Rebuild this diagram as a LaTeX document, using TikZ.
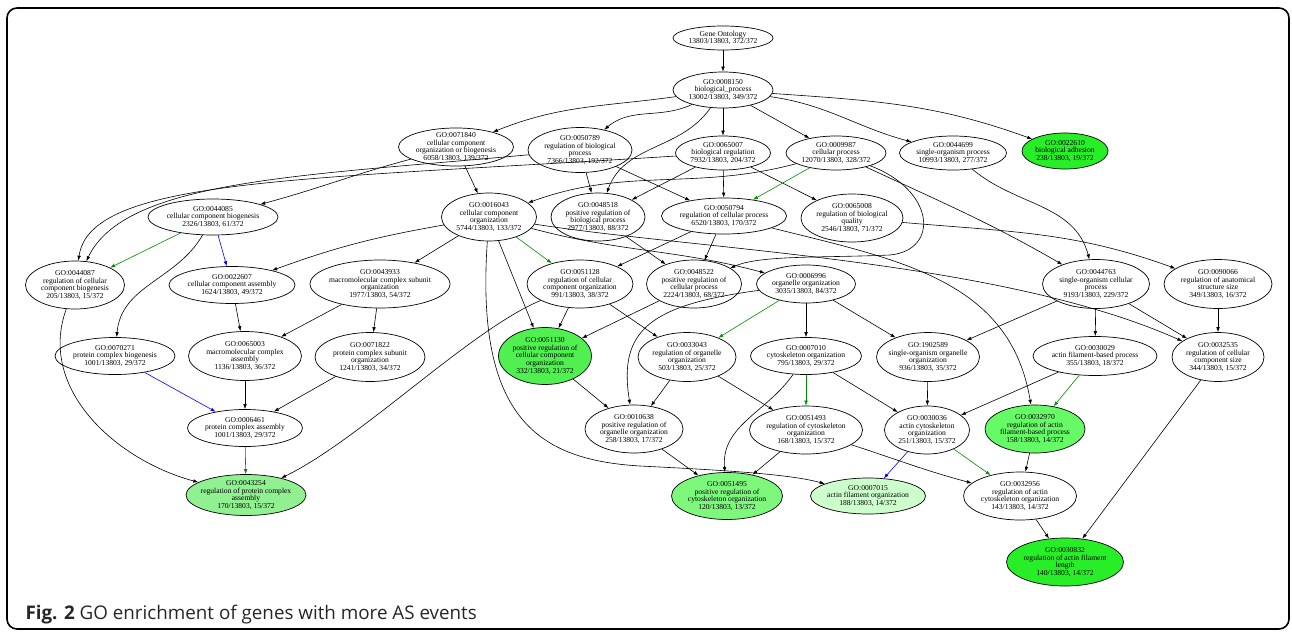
\documentclass[tikz,border=0pt]{standalone}
\usepackage{fontspec}
\usetikzlibrary{arrows.meta,shapes.geometric}
\newfontfamily\gofont{Liberation Serif}
\newfontfamily\capfont{Open Sans}
\definecolor{regcol}{RGB}{0,140,0}
\definecolor{partcol}{RGB}{0,0,255}
\definecolor{sigA}{RGB}{40,238,40}
\definecolor{sigB}{RGB}{80,240,80}
\definecolor{sigC}{RGB}{102,250,102}
\definecolor{sigD}{RGB}{125,248,125}
\definecolor{sigE}{RGB}{145,240,145}
\definecolor{sigF}{RGB}{204,255,204}

\begin{document}
\begin{tikzpicture}[x=1pt,y=-1pt,>={Latex[length=5pt,width=3.6pt]},
    go/.style 2 args={ellipse,draw,line width=0.7pt,minimum width=#1pt,minimum height=#2pt,
        inner xsep=-20pt,inner ysep=-14pt,align=center,font=\gofont\fontsize{7.6}{7.7}\selectfont},
    isa/.style={->,line width=0.6pt},
    reg/.style={isa,draw=regcol},
    partof/.style={isa,draw=partcol}]

        \useasboundingbox (0,0) rectangle (1292,632);
        \draw[line width=1.6pt,rounded corners=10pt] (7,8) rectangle (1289,629);

        \node[go={100}{24}] (gene) at (723,38) {Gene Ontology\\13803/13803, 372/372};
        \node[go={100}{36}] (n8150) at (723,90) {GO:0008150\\biological\_process\\13002/13803, 349/372};

        \node[go={115}{38}] (n71840) at (456,147) {GO:0071840\\cellular component\\organization or biogenesis\\6058/13803, 139/372};
        \node[go={104}{45}] (n50789) at (580,150) {GO:0050789\\regulation of biological\\process\\7366/13803, 192/372};
        \node[go={95}{34}] (n65007) at (723,153) {GO:0065007\\biological regulation\\7932/13803, 204/372};
        \node[go={100}{34}] (n9987) at (836,153) {GO:0009987\\cellular process\\12070/13803, 328/372};
        \node[go={107}{34}] (n44699) at (953,153) {GO:0044699\\single-organism process\\10993/13803, 277/372};
        \node[go={86}{36},fill=sigA] (n22610) at (1065,151) {GO:0022610\\biological adhesion\\238/13803, 19/372};

        \node[go={130}{36}] (n44085) at (213,217) {GO:0044085\\cellular component biogenesis\\2326/13803, 61/372};
        \node[go={95}{48}] (n16043) at (489,217) {GO:0016043\\cellular component\\organization\\5744/13803, 133/372};
        \node[go={94}{48}] (n48518) at (598,217) {GO:0048518\\positive regulation of\\biological process\\2977/13803, 88/372};
        \node[go={125}{36}] (n50794) at (724,216) {GO:0050794\\regulation of cellular process\\6520/13803, 170/372};
        \node[go={102}{48}] (n65008) at (852,218) {GO:0065008\\regulation of biological\\quality\\2546/13803, 71/372};

        \node[go={99}{48}] (n44087) at (75,285) {GO:0044087\\regulation of cellular\\component biogenesis\\205/13803, 15/372};
        \node[go={126}{37}] (n22607) at (232,285) {GO:0022607\\cellular component assembly\\1624/13803, 49/372};
        \node[go={140}{48}] (n43933) at (380,284) {GO:0043933\\macromolecular complex subunit\\organization\\1977/13803, 54/372};
        \node[go={106}{48}] (n51128) at (580,284) {GO:0051128\\regulation of cellular\\component organization\\991/13803, 38/372};
        \node[go={95}{48}] (n48522) at (694,284) {GO:0048522\\positive regulation of\\cellular process\\2224/13803, 68/372};
        \node[go={99}{38}] (n6996) at (806,284) {GO:0006996\\organelle organization\\3035/13803, 84/372};
        \node[go={107}{49}] (n44763) at (1096,284) {GO:0044763\\single-organism cellular\\process\\9193/13803, 229/372};
        \node[go={108}{49}] (n90066) at (1218,284) {GO:0090066\\regulation of anatomical\\structure size\\349/13803, 16/372};

        \node[go={120}{37}] (n70271) at (115,356) {GO:0070271\\protein complex biogenesis\\1001/13803, 29/372};
        \node[go={113}{49}] (n65003) at (245,356) {GO:0065003\\macromolecular complex\\assembly\\1136/13803, 36/372};
        \node[go={110}{49}] (n71822) at (370,357) {GO:0071822\\protein complex subunit\\organization\\1241/13803, 34/372};
        \node[go={93}{57},fill=sigB] (n51130) at (545,356) {GO:0051130\\positive regulation of\\cellular component\\organization\\332/13803, 21/372};
        \node[go={98}{49}] (n33043) at (687,357) {GO:0033043\\regulation of organelle\\organization\\503/13803, 25/372};
        \node[go={111}{37}] (n7010) at (806,356) {GO:0007010\\cytoskeleton organization\\795/13803, 29/372};
        \node[go={103}{49}] (n1902589) at (928,357) {GO:1902589\\single-organism organelle\\organization\\936/13803, 35/372};
        \node[go={124}{39}] (n30029) at (1095,356) {GO:0030029\\actin filament-based process\\355/13803, 18/372};
        \node[go={92}{49}] (n32535) at (1218,357) {GO:0032535\\regulation of cellular\\component size\\344/13803, 15/372};

        \node[go={115}{37}] (n6461) at (245,428) {GO:0006461\\protein complex assembly\\1001/13803, 29/372};
        \node[go={98}{48}] (n10638) at (634,429) {GO:0010638\\positive regulation of\\organelle organization\\258/13803, 17/372};
        \node[go={113}{48}] (n51493) at (806,430) {GO:0051493\\regulation of cytoskeleton\\organization\\168/13803, 15/372};
        \node[go={85}{48}] (n30036) at (927,430) {GO:0030036\\actin cytoskeleton\\organization\\251/13803, 15/372};
        \node[go={100}{48},fill=sigC] (n32970) at (1035,429) {GO:0032970\\regulation of actin\\filament-based process\\158/13803, 14/372};

        \node[go={120}{41},fill=sigE] (n43254) at (246,495) {GO:0043254\\regulation of protein complex\\assembly\\170/13803, 15/372};
        \node[go={111}{47},fill=sigD] (n51495) at (727,496) {GO:0051495\\positive regulation of\\cytoskeleton organization\\120/13803, 13/372};
        \node[go={115}{36},fill=sigF] (n7015) at (868,496) {GO:0007015\\actin filament organization\\188/13803, 14/372};
        \node[go={113}{48}] (n32956) at (1020,496) {GO:0032956\\regulation of actin\\cytoskeleton organization\\143/13803, 14/372};
        \node[go={117}{48},fill=sigA] (n30832) at (1065,562) {GO:0030832\\regulation of actin filament\\length\\140/13803, 14/372};

        \draw[isa] (gene) -- (n8150);
        \draw[isa] (n8150) to[out=188,in=22] (n71840);
        \draw[isa] (n8150) to[out=205,in=40] (n50789);
        \draw[isa] (n8150) -- (n65007);
        \draw[isa] (n8150) -- (n9987);
        \draw[isa] (n8150) to[out=-8,in=165] (n44699);
        \draw[isa] (n8150) to[out=-4,in=160] (n22610);
        \draw[isa] (n8150) to[out=235,in=70] (n48518);

        \draw[isa] (n71840) -- (n16043);
        \draw[isa] (n71840) to[out=195,in=15] (n44085);
        \draw[isa] (n50789) .. controls (300,176) and (125,180) .. (n44087);
        \draw[isa] (n65007) .. controls (300,180) and (90,178) .. (n44087);
        \draw[isa] (n50789) -- (n48518);
        \draw[isa] (n50789) -- (n50794);
        \draw[isa] (n65007) -- (n48518);
        \draw[isa] (n65007) -- (n50794);
        \draw[isa] (n65007) -- (n65008);
        \draw[reg] (n9987) -- (n50794);
        \draw[isa] (n9987) to[out=195,in=20] (n16043);
        \draw[isa] (n9987) .. controls (935,190) and (940,250) .. (890,255) .. controls (820,258) and (760,255) .. (n48522);
        \draw[isa] (n9987) to[out=-25,in=150] (n44763);
        \draw[isa] (n44699) to[out=-40,in=105] (n44763);

        \draw[reg] (n44085) -- (n44087);
        \draw[partof] (n44085) -- (n22607);
        \draw[isa] (n44085) to[out=240,in=85] (n70271);
        \draw[isa] (n16043) to[out=190,in=20] (n22607);
        \draw[isa] (n16043) -- (n43933);
        \draw[reg] (n16043) -- (n51128);
        \draw[isa] (n16043) -- (n51130);
        \draw[isa] (n16043) .. controls (475,420) and (540,460) .. (640,466) .. controls (720,470) and (790,474) .. (n7015);
        \draw[isa] (n16043) to[out=-15,in=165] (n6996);
        \draw[isa] (n16043) .. controls (700,250) and (1000,260) .. (n32535);
        \draw[isa] (n48518) -- (n48522);
        \draw[isa] (n50794) -- (n51128);
        \draw[isa] (n50794) -- (n48522);
        \draw[isa] (n50794) .. controls (900,260) and (1010,280) .. (n32970);
        \draw[isa] (n65008) to[out=-5,in=160] (n90066);

        \draw[isa] (n44087) to[out=250,in=165] (n43254);
        \draw[isa] (n22607) -- (n65003);
        \draw[isa] (n43933) -- (n65003);
        \draw[isa] (n43933) -- (n71822);
        \draw[isa] (n51128) .. controls (470,330) and (360,440) .. (n43254);
        \draw[isa] (n51128) -- (n51130);
        \draw[isa] (n51128) -- (n33043);
        \draw[isa] (n48522) -- (n51130);
        \draw[isa] (n6996) .. controls (650,305) and (618,330) .. (n10638);
        \draw[reg] (n6996) -- (n33043);
        \draw[isa] (n6996) -- (n7010);
        \draw[isa] (n6996) -- (n1902589);
        \draw[isa] (n44763) -- (n1902589);
        \draw[isa] (n44763) -- (n30029);
        \draw[isa] (n44763) -- (n32535);
        \draw[isa] (n90066) -- (n32535);

        \draw[partof] (n70271) -- (n6461);
        \draw[isa] (n65003) -- (n6461);
        \draw[isa] (n71822) -- (n6461);
        \draw[isa] (n51130) -- (n10638);
        \draw[isa] (n33043) -- (n10638);
        \draw[isa] (n33043) -- (n51493);
        \draw[reg] (n7010) -- (n51493);
        \draw[isa] (n7010) -- (n30036);
        \draw[isa] (n7010) to[out=235,in=95] (n51495);
        \draw[isa] (n1902589) -- (n30036);
        \draw[isa] (n30029) -- (n30036);
        \draw[reg] (n30029) -- (n32970);
        \draw[isa] (n32535) -- (n30832);

        \draw[reg] (n6461) -- (n43254);
        \draw[isa] (n10638) -- (n51495);
        \draw[isa] (n51493) -- (n51495);
        \draw[isa] (n51493) to[out=-18,in=165] (n32956);
        \draw[partof] (n30036) -- (n7015);
        \draw[reg] (n30036) -- (n32956);
        \draw[isa] (n32970) -- (n32956);
        \draw[isa] (n32956) -- (n30832);

        \node[anchor=base west,font=\capfont\fontsize{18.8}{18.8}\selectfont,text=black!85] (caption) at (22,619) {\textbf{Fig. 2} GO enrichment of genes with more AS events};
\end{tikzpicture}
\end{document}
